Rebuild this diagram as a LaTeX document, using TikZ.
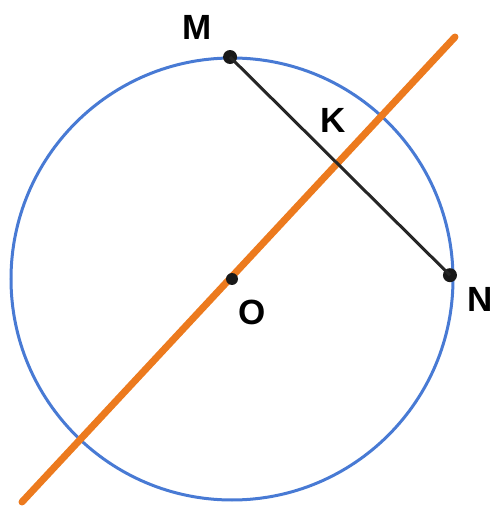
\documentclass[tikz,border=0pt]{standalone}
\usepackage{fontspec}
\setsansfont{Liberation Sans}
\usepackage{xcolor}
\usepackage{tikz}
\usetikzlibrary{positioning, calc}

\definecolor{circblue}{RGB}{72,122,212}
\definecolor{axisorange}{RGB}{236,122,30}

\begin{document}
\begin{tikzpicture}[
  x=1pt, y=1pt,
  circ/.style={draw=circblue, line width=3pt},
  chord/.style={draw=black!85, line width=3pt},
  axisline/.style={draw=axisorange, line width=7pt, line cap=round},
  dot/.style={circle, fill=black!90, inner sep=0pt, minimum size=14pt},
  lbl/.style={font=\sffamily\bfseries\fontsize{35}{35}\selectfont, inner sep=1pt}
]
\useasboundingbox (0,0) rectangle (494,507);

% circle and centre
\coordinate (O) at (232,228);
\draw[circ] (O) circle (221);

% line through the centre
\coordinate (lo) at (22,5);
\coordinate (hi) at (455,470);
\draw[axisline] (lo) -- (hi);

% chord MN
\node[dot] (M) at ($(O)+(90.5:222)$) {};
\node[dot] (N) at ($(O)+(1:218)$) {};
\draw[chord] (M.center) -- (N.center);
\node[dot, minimum size=12pt] (Odot) at (O) {};

% labels
\node[lbl] (labM) at (197,480) {M};
\node[lbl] (labK) at (333,387) {K};
\node[lbl] (labO) at (252,195) {O};
\node[lbl] (labN) at (480,208) {N};
\end{tikzpicture}
\end{document}
